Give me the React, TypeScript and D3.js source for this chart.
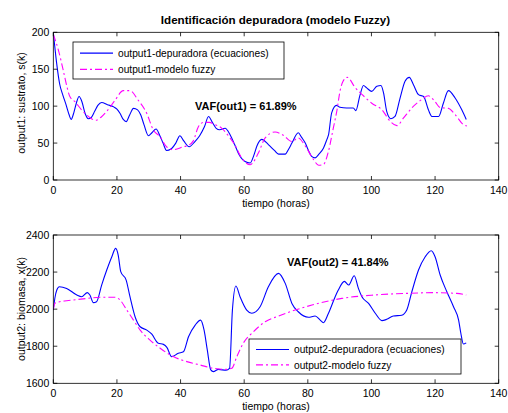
import React from "react";
import * as d3 from "d3";

// Substrate s(k): plant equations vs fuzzy model
const tEcS = [0, 1, 2, 3, 4, 5, 5.6, 6.5, 7.3, 8.1, 9, 10, 11, 12, 13, 14, 15.2, 17, 19, 20, 21, 22, 22.9, 24, 25.2, 26.5, 27.5, 28.5, 29.9, 31, 32.3, 33.5, 34.5, 35.6, 37, 38.5, 39.8, 41, 42.7, 44.5, 46, 47.5, 48.8, 50, 51.2, 52.3, 54, 55.6, 57, 58.2, 60.3, 61.9, 63, 64, 65.5, 67.6, 69.5, 70.8, 72.9, 74, 75, 77, 78, 79.2, 80.2, 81.2, 82.3, 83.5, 84.9, 86, 86.5, 87.5, 89, 90.1, 92.2, 94.3, 95.1, 96.4, 97.5, 98.5, 100.1, 101.7, 103, 103.8, 104.8, 106.1, 107.4, 109, 110.6, 111.9, 113.2, 114.8, 116.4, 117.9, 119, 121.1, 122.6, 124.2, 126.3, 128.4, 129.8];
const sEc = [200, 160, 130, 115, 102, 88, 82, 92, 105, 113, 106, 90, 83, 85, 93, 101, 105, 102, 99, 96, 90, 82, 79, 88, 97, 95, 88, 75, 60, 64, 69, 60, 50, 40, 42, 50, 60, 53, 45, 52, 60, 72, 86, 78, 70, 68, 70, 61, 48, 36, 25, 23, 33, 46, 55, 48, 40, 35, 35, 42, 50, 64, 58, 50, 40, 32, 30, 35, 43, 55, 61, 91, 101, 98.5, 97.5, 97.5, 94, 115, 128, 124.7, 120, 127, 128, 118, 93, 83, 86, 111, 134, 139, 129, 115.6, 113, 95, 86, 86, 104, 121, 111, 95, 82];

const tFzS = [0, 1.6, 3.1, 4.2, 5.2, 6.8, 8.9, 10.5, 12, 13.6, 15, 16.8, 19.4, 22, 24.1, 26.7, 29.4, 31.4, 33.5, 35.6, 37.7, 40.9, 42.5, 44, 45.6, 47.2, 49, 50.8, 53, 55, 57, 59.2, 61.9, 64.5, 66.6, 69.7, 72.3, 75, 77, 79.2, 81.8, 83.4, 84.9, 86.5, 88, 89.1, 90.2, 91, 92.4, 94.9, 97, 100.1, 103.3, 105.9, 108, 110.1, 112.7, 115.8, 117.9, 120, 121.6, 124.2, 126.3, 128.9, 130];
const sFz = [197, 176, 149, 128, 113, 106, 95, 88, 83, 81, 85, 93, 108, 121, 121, 108, 90, 68, 59, 45, 41, 45, 47, 53, 72, 78, 78, 75, 70, 60, 48, 30, 20.7, 37, 57, 65, 60.5, 52, 57, 46, 27.5, 20, 21, 39, 70, 93, 122, 133, 139, 125, 116, 104, 95, 79.5, 73.6, 84, 97.6, 109, 114, 106, 98, 97, 88.5, 75, 73];

// Biomass x(k): plant equations vs fuzzy model
const tEcX = [0, 0.5, 1.1, 1.9, 4.2, 7.4, 8.9, 10.7, 11.5, 12.6, 13.6, 15.2, 16.8, 18.4, 19.6, 20.4, 21.2, 22.9, 24.1, 25.7, 27.3, 29.4, 30.9, 33, 34.6, 35.7, 37.2, 39.3, 40.9, 42.5, 44.6, 46.3, 47.4, 48.4, 49.5, 50.3, 51.9, 54.3, 55.4, 56.3, 57.4, 58.7, 60.8, 62.4, 65, 67.6, 70.8, 72.9, 75, 77, 80.2, 82.3, 83.9, 84.9, 86.5, 88.6, 89.5, 91.5, 92.8, 94.6, 95.9, 97, 99.1, 101.2, 103.3, 104.8, 106.9, 109.5, 111.1, 112.7, 114.8, 116.9, 118.8, 120, 121.6, 123.7, 125.8, 127.4, 128.1, 128.9, 129.8];
const xEc = [1995, 2060, 2103, 2121, 2112, 2076, 2067, 2089, 2076, 2035, 2040, 2130, 2211, 2283, 2328, 2292, 2202, 2157, 2067, 1959, 1905, 1887, 1866, 1816, 1810, 1794, 1743, 1762, 1770, 1851, 1914, 1941, 1887, 1780, 1672, 1663, 1675, 1670, 1680, 1995, 2125, 2067, 1995, 1978, 2013, 2121, 2193, 2139, 2031, 1986, 1956, 1963, 1941, 1927, 1978, 2067, 2100, 2150, 2130, 2180, 2112, 2067, 2031, 1978, 1938, 1945, 1963, 1967, 1995, 2094, 2211, 2283, 2315, 2283, 2184, 2094, 2013, 1941, 1870, 1812, 1818];

const tFzX = [0, 0.5, 2, 4.2, 10.7, 14.7, 19.4, 21, 23.1, 25.2, 27.3, 30.4, 33.6, 37.7, 42, 46.1, 50.3, 54.3, 56.1, 57.7, 59.7, 62.9, 66.6, 70.8, 76, 81.3, 86.5, 90.7, 100.6, 111.1, 119.5, 126.8, 129.8];
const xFz = [2000, 2031, 2040, 2045, 2058, 2064, 2064, 2049, 1995, 1941, 1887, 1833, 1789, 1744, 1717, 1699, 1681, 1675, 1681, 1744, 1816, 1878, 1932, 1963, 1995, 2022, 2044, 2058, 2076, 2085, 2089, 2085, 2076];

const xTicks = [0, 20, 40, 60, 80, 100, 120, 140];
const sTicks = [0, 50, 100, 150, 200];
const bTicks = [1600, 1800, 2000, 2200, 2400];

const title = "Identificación depuradora (modelo Fuzzy)";
const xLabel = "tiempo (horas)";
const yLabel1 = "output1: sustrato, s(k)";
const yLabel2 = "output2: biomasa, x(k)";
const legend1 = ["output1-depuradora (ecuaciones)", "output1-modelo fuzzy"];
const legend2 = ["output2-depuradora (ecuaciones)", "output2-modelo fuzzy"];
const vaf1 = "VAF(out1) = 61.89%";
const vaf2 = "VAF(out2) = 41.84%";

const FONT = "'Liberation Sans', Arial, sans-serif";
const BLUE = "#0000ff";
const MAGENTA = "#ff00ff";
const DASHDOT = "7,3,2,3";

type PanelProps = {
  top: number;
  bottom: number;
  yDomain: [number, number];
  yTicks: number[];
  series: { t: number[]; v: number[]; color: string; dash?: string }[];
  yLabel: string;
  yLabelY: number;
  legend: string[];
  legendBox: { x: number; y: number; w: number; h: number };
  vaf: string;
  vafPos: { x: number; y: number };
};

const LEFT = 53.3;
const RIGHT = 498.7;

function Panel(p: PanelProps) {
  const x = d3.scaleLinear().domain([0, 140]).range([LEFT, RIGHT]);
  const y = d3.scaleLinear().domain(p.yDomain).range([p.bottom, p.top]);
  const line = d3
    .line<[number, number]>()
    .x((d) => x(d[0]))
    .y((d) => y(d[1]))
    .curve(d3.curveMonotoneX);
  const tk = 4;
  const lb = p.legendBox;
  return (
    <g>
      <defs>
        <clipPath id={`clip${p.top}`}>
          <rect x={LEFT} y={p.top} width={RIGHT - LEFT} height={p.bottom - p.top} />
        </clipPath>
      </defs>
      <rect x={LEFT} y={p.top} width={RIGHT - LEFT} height={p.bottom - p.top} fill="#fff" />
      <g clipPath={`url(#clip${p.top})`}>
        {p.series.map((s, i) => (
          <path
            key={i}
            d={line(s.t.map((t, j) => [t, s.v[j]] as [number, number])) || ""}
            fill="none"
            stroke={s.color}
            strokeWidth={1.1}
            strokeDasharray={s.dash}
          />
        ))}
      </g>
      {xTicks.map((t) => (
        <g key={`x${t}`}>
          <line x1={x(t)} x2={x(t)} y1={p.bottom} y2={p.bottom - tk} stroke="#000" strokeWidth={0.8} />
          <line x1={x(t)} x2={x(t)} y1={p.top} y2={p.top + tk} stroke="#000" strokeWidth={0.8} />
          <text x={x(t)} y={p.bottom + 14} textAnchor="middle" fontSize={10.5} fontFamily={FONT} fill="#000">
            {t}
          </text>
        </g>
      ))}
      {p.yTicks.map((t) => (
        <g key={`y${t}`}>
          <line x1={LEFT} x2={LEFT + tk} y1={y(t)} y2={y(t)} stroke="#000" strokeWidth={0.8} />
          <line x1={RIGHT} x2={RIGHT - tk} y1={y(t)} y2={y(t)} stroke="#000" strokeWidth={0.8} />
          <text x={LEFT - 4} y={y(t) + 3.8} textAnchor="end" fontSize={10.5} fontFamily={FONT} fill="#000">
            {t}
          </text>
        </g>
      ))}
      <rect x={LEFT} y={p.top} width={RIGHT - LEFT} height={p.bottom - p.top} fill="none" stroke="#000" strokeWidth={0.8} />
      <text x={(LEFT + RIGHT) / 2} y={p.bottom + 27} textAnchor="middle" fontSize={10.5} fontFamily={FONT}>
        {xLabel}
      </text>
      <text
        transform={`translate(25,${p.yLabelY}) rotate(-90)`}
        textAnchor="middle"
        fontSize={10.5}
        fontFamily={FONT}
      >
        {p.yLabel}
      </text>
      <rect x={lb.x} y={lb.y} width={lb.w} height={lb.h} fill="#fff" stroke="#000" strokeWidth={0.8} />
      {p.legend.map((txt, i) => {
        const ly = lb.y + lb.h * (i === 0 ? 0.3 : 0.74);
        const s = p.series[i];
        return (
          <g key={txt}>
            <line x1={lb.x + 7} x2={lb.x + 40} y1={ly} y2={ly} stroke={s.color} strokeWidth={1.1} strokeDasharray={s.dash} />
            <text x={lb.x + 45} y={ly + 3.7} fontSize={10.2} fontFamily={FONT}>
              {txt}
            </text>
          </g>
        );
      })}
      <text x={p.vafPos.x} y={p.vafPos.y} fontSize={11} fontWeight="bold" fontFamily={FONT}>
        {p.vaf}
      </text>
    </g>
  );
}

export default function App() {
  return (
    <svg
      width={508}
      height={413}
      style={{ position: "absolute", left: 0, top: 0, background: "#fff" }}
    >
      <rect width={508} height={413} fill="#fff" />
      <text x={275.5} y={23.5} textAnchor="middle" fontSize={11.6} fontWeight="bold" fontFamily={FONT}>
        {title}
      </text>
      <Panel
        top={32.3}
        bottom={180}
        yDomain={[0, 200]}
        yTicks={sTicks}
        series={[
          { t: tEcS, v: sEc, color: BLUE },
          { t: tFzS, v: sFz, color: MAGENTA, dash: DASHDOT },
        ]}
        yLabel={yLabel1}
        yLabelY={103}
        legend={legend1}
        legendBox={{ x: 73, y: 42, w: 211, h: 37 }}
        vaf={vaf1}
        vafPos={{ x: 195, y: 110 }}
      />
      <Panel
        top={235}
        bottom={383.3}
        yDomain={[1600, 2400]}
        yTicks={bTicks}
        series={[
          { t: tEcX, v: xEc, color: BLUE },
          { t: tFzX, v: xFz, color: MAGENTA, dash: DASHDOT },
        ]}
        yLabel={yLabel2}
        yLabelY={309}
        legend={legend2}
        legendBox={{ x: 249, y: 339, w: 212, h: 35 }}
        vaf={vaf2}
        vafPos={{ x: 287, y: 266 }}
      />
    </svg>
  );
}
